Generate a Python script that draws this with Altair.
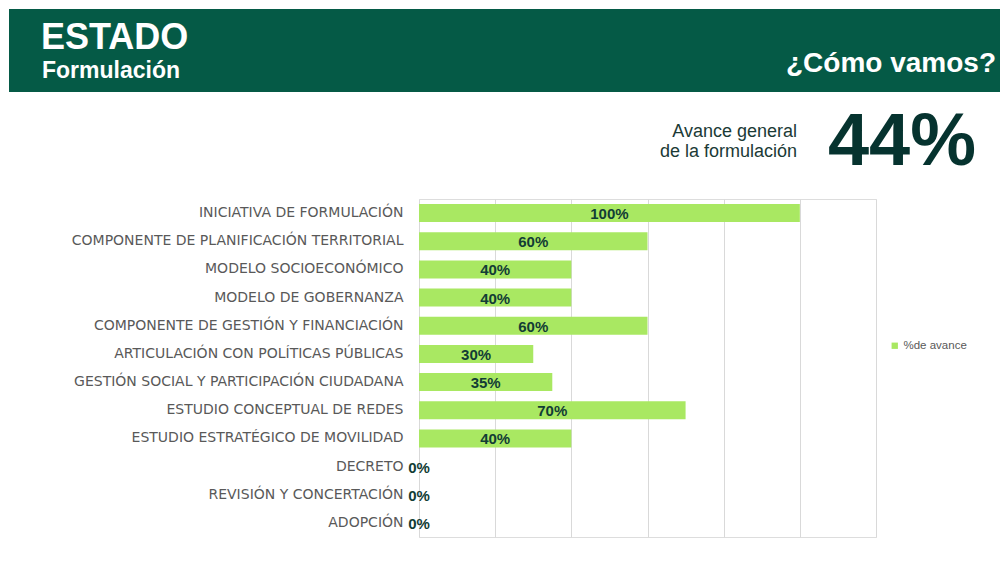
import altair as alt
import pandas as pd

categorias = [
    "INICIATIVA DE FORMULACIÓN",
    "COMPONENTE DE PLANIFICACIÓN TERRITORIAL",
    "MODELO SOCIOECONÓMICO",
    "MODELO DE GOBERNANZA",
    "COMPONENTE DE GESTIÓN Y FINANCIACIÓN",
    "ARTICULACIÓN CON POLÍTICAS PÚBLICAS",
    "GESTIÓN SOCIAL Y PARTICIPACIÓN CIUDADANA",
    "ESTUDIO CONCEPTUAL DE REDES",
    "ESTUDIO ESTRATÉGICO DE MOVILIDAD",
    "DECRETO",
    "REVISIÓN Y CONCERTACIÓN",
    "ADOPCIÓN",
]
avance = [1.00, 0.60, 0.40, 0.40, 0.60, 0.30, 0.35, 0.70, 0.40, 0.0, 0.0, 0.0]
serie = "%de avance"

titulo = "ESTADO"
subtitulo = "Formulación"
pregunta = "¿Cómo vamos?"
avance_txt = ["Avance general", "de la formulación"]
avance_general = "44%"

df = pd.DataFrame({"cat": categorias, "val": avance, "serie": serie})
df["mid"] = df["val"] / 2
df["lbl"] = (df["val"] * 100).round().astype(int).astype(str) + "%"

GREEN = "#a9e862"
HEADER = "#055a46"
DARK = "#06332f"

y = alt.Y("cat:N", sort=categorias, title=None,
          scale=alt.Scale(paddingInner=0.36, paddingOuter=0.18),
          axis=alt.Axis(labelFont="DejaVu Sans", labelFontSize=14, labelColor="#595959",
                        labelPadding=16, ticks=False, domain=False, grid=False,
                        labelLimit=400))

bars = alt.Chart(df).mark_bar(size=18).encode(
    x=alt.X("val:Q", scale=alt.Scale(domain=[0, 1.2], nice=False),
            axis=alt.Axis(values=[0, 0.2, 0.4, 0.6, 0.8, 1.0, 1.2], labels=False, ticks=False,
                          domain=False, grid=True, gridColor="#d9d9d9", title=None)),
    y=y,
    color=alt.Color("serie:N", scale=alt.Scale(range=[GREEN]),
                    legend=alt.Legend(title=None, orient="none", legendX=470, legendY=141,
                                      symbolType="square", symbolSize=40, symbolStrokeWidth=0,
                                      labelFont="Liberation Sans", labelFontSize=11.5,
                                      labelColor="#595959", labelOffset=3)),
)

labels = alt.Chart(df).mark_text(font="Liberation Sans", fontWeight="bold", fontSize=15,
                                 color="#123d35", baseline="middle", dy=1).encode(
    x="mid:Q", y=alt.Y("cat:N", sort=categorias), text="lbl:N")

hdr = pd.DataFrame({"k": [0]})
header = alt.Chart(hdr).mark_rect(color=HEADER).encode(
    x=alt.value(-410), x2=alt.value(589), y=alt.value(-190), y2=alt.value(-107))

def txt(t, x, yv, size, weight="bold", align="left", color="white", lh=None):
    kw = dict(font="Liberation Sans", fontSize=size, fontWeight=weight, align=align,
              baseline="alphabetic", color=color)
    if lh is not None:
        kw["lineHeight"] = lh
    return alt.Chart(pd.DataFrame({"k": [0]})).mark_text(**kw).encode(
        x=alt.value(x), y=alt.value(yv), text=alt.value(t))

t1 = txt(titulo, -378, -150, 36)
t2 = txt(subtitulo, -377, -121, 23)
t3 = txt(pregunta, 577, -127, 28, align="right")
t4 = txt(avance_txt, 378, -62, 18, weight="normal", align="right", color="#1b3a36", lh=19.5)
t6 = txt(avance_general, 483, -34, 74, align="center", color=DARK)

chart = alt.layer(header, bars, labels, t1, t2, t3, t4, t6).properties(
    width=457, height=338,
    autosize=alt.AutoSizeParams(type="none"),
    padding={"left": 411, "top": 191, "right": 124, "bottom": 26},
).configure_view(stroke=None).configure(background="white")

chart.save("out.html", embed_options={"renderer": "svg", "actions": False})
